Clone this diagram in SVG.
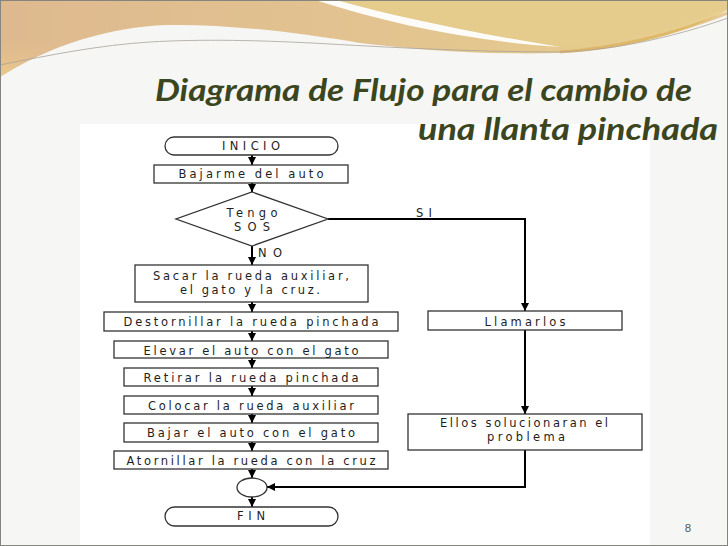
<svg xmlns="http://www.w3.org/2000/svg" width="728" height="546" viewBox="0 0 728 546">
<defs>
<linearGradient id="tan" x1="0" y1="0" x2="1" y2="0">
<stop offset="0" stop-color="#deb98f"/>
<stop offset="0.45" stop-color="#e2c290"/>
<stop offset="1" stop-color="#e7cf8d"/>
</linearGradient>
<linearGradient id="tanL" x1="0" y1="0" x2="0" y2="1">
<stop offset="0" stop-color="#deb98f" stop-opacity="0"/>
<stop offset="1" stop-color="#ebcb8a"/>
</linearGradient>
<marker id="ah" viewBox="0 0 10 10" refX="10" refY="5" markerWidth="9" markerHeight="8" markerUnits="userSpaceOnUse" orient="auto">
<path d="M0,0 L10,5 L0,10 Z" fill="#000"/>
</marker>
<style>
.box{fill:#fff;stroke:#333;stroke-width:1.3}
.term{fill:#fff;stroke:#333;stroke-width:1.3}
.t{font-family:"DejaVu Sans",Verdana,sans-serif;font-size:11.5px;fill:#1e1e1e;text-anchor:middle}
.lbl{font-family:"DejaVu Sans",Verdana,sans-serif;font-size:11.5px;fill:#1e1e1e}
.c{fill:none;stroke:#000;stroke-width:2;marker-end:url(#ah)}
.title{font-family:Lato,"Open Sans",sans-serif;font-weight:bold;font-style:italic;font-size:30px;fill:#3b4620}
</style>
</defs>
<rect x="0" y="0" width="728" height="546" fill="#f6f6f4"/>
<path d="M0,0 H728 V10 C700,25 640,50 560,53 C480,55 420,50 360,43 C300,33 230,24 167,25 C110,27 50,45 0,77 Z" fill="url(#tan)"/>
<path d="M0,40 C40,45 60,44 100,33 C50,45 25,60 0,77 Z" fill="url(#tanL)"/>
<path d="M320,0 H728 V8 C680,28 620,44 548,47 C470,32 400,16 320,0 Z" fill="#e5cc8c"/>
<path d="M315,0 L336,0 C400,18 480,34 560,47 C470,41 390,24 315,0 Z" fill="#ffffff" opacity="0.95"/>
<path d="M560,52 C620,48 680,32 728,13" fill="none" stroke="#d8a850" stroke-width="3" opacity="0.6"/>
<path d="M0,65 C50,55 100,45 150,42 C200,39 260,40 330,44 C400,48 480,52 560,52 C620,50 680,35 728,18" fill="none" stroke="#a9a39a" stroke-width="0.8"/>
<rect x="80" y="124" width="570" height="422" fill="#ffffff"/>
<rect x="0.5" y="0.5" width="727" height="545" fill="none" stroke="#858580" stroke-width="1"/>
<text class="title" x="155" y="101" textLength="537" lengthAdjust="spacingAndGlyphs">Diagrama de Flujo para el cambio de</text>
<text class="title" x="418" y="140" textLength="300" lengthAdjust="spacingAndGlyphs">una llanta pinchada</text>
<text x="688" y="532" font-family="'Liberation Sans',Arial,sans-serif" font-size="11.5" fill="#5a5a5a" text-anchor="middle">8</text>
<g id="connectors">
<path class="c" d="M252,155 V165"/>
<path class="c" d="M252,183 V192"/>
<path class="c" d="M252,246 V265"/>
<path class="c" d="M328,219 H525 V311"/>
<path class="c" d="M252,302 V312"/>
<path class="c" d="M252,331 V341"/>
<path class="c" d="M252,358 V368"/>
<path class="c" d="M252,386 V396"/>
<path class="c" d="M252,414 V423"/>
<path class="c" d="M252,442 V451"/>
<path class="c" d="M252,469 V478"/>
<path class="c" d="M252,497 V507"/>
<path class="c" d="M525,330 V414"/>
<path class="c" d="M525,450 V487 H267"/>
<text class="lbl" x="258" y="257" textLength="24" lengthAdjust="spacing">NO</text>
<text class="lbl" x="416" y="217" textLength="16" lengthAdjust="spacing">SI</text>
</g>
<g id="inicio">
<rect class="term" x="165" y="137" width="173" height="18" rx="9"/>
<text class="t" x="251" y="150" textLength="58" lengthAdjust="spacing">INICIO</text>
</g>
<g id="bajarme">
<rect class="box" x="154" y="165" width="194" height="18"/>
<text class="t" x="251" y="178" textLength="145" lengthAdjust="spacing">Bajarme del auto</text>
</g>
<g id="decision">
<polygon class="box" points="252,192 328,219 252,246 176,219"/>
<text class="t" x="252" y="217" textLength="51" lengthAdjust="spacing">Tengo</text>
<text class="t" x="252" y="231" textLength="36" lengthAdjust="spacing">SOS</text>
</g>
<g id="sacar">
<rect class="box" x="135" y="265" width="233" height="37"/>
<text class="t" x="251" y="280" textLength="196" lengthAdjust="spacing">Sacar la rueda auxiliar,</text>
<text class="t" x="250" y="294" textLength="140" lengthAdjust="spacing">el gato y la cruz.</text>
</g>
<g id="destornillar">
<rect class="box" x="104" y="312" width="294" height="19"/>
<text class="t" x="251" y="326" textLength="255" lengthAdjust="spacing">Destornillar la rueda pinchada</text>
</g>
<g id="elevar">
<rect class="box" x="114" y="341" width="274" height="17"/>
<text class="t" x="251" y="355" textLength="215" lengthAdjust="spacing">Elevar el auto con el gato</text>
</g>
<g id="retirar">
<rect class="box" x="124" y="368" width="254" height="18"/>
<text class="t" x="251" y="382" textLength="215" lengthAdjust="spacing">Retirar la rueda pinchada</text>
</g>
<g id="colocar">
<rect class="box" x="124" y="396" width="254" height="18"/>
<text class="t" x="251" y="410" textLength="206" lengthAdjust="spacing">Colocar la rueda auxiliar</text>
</g>
<g id="bajar">
<rect class="box" x="124" y="423" width="254" height="19"/>
<text class="t" x="251" y="437" textLength="208" lengthAdjust="spacing">Bajar el auto con el gato</text>
</g>
<g id="atornillar">
<rect class="box" x="114" y="451" width="274" height="18"/>
<text class="t" x="251" y="465" textLength="249" lengthAdjust="spacing">Atornillar la rueda con la cruz</text>
</g>
<g id="union">
<ellipse class="box" cx="252" cy="487.5" rx="15" ry="9.5"/>
</g>
<g id="fin">
<rect class="term" x="165" y="507" width="173" height="19" rx="9.5"/>
<text class="t" x="251" y="520" textLength="28" lengthAdjust="spacing">FIN</text>
</g>
<g id="llamarlos">
<rect class="box" x="428" y="311" width="194" height="19"/>
<text class="t" x="525" y="326" textLength="81" lengthAdjust="spacing">Llamarlos</text>
</g>
<g id="ellos">
<rect class="box" x="408" y="414" width="234" height="36"/>
<text class="t" x="524" y="427" textLength="168" lengthAdjust="spacing">Ellos solucionaran el</text>
<text class="t" x="526" y="441" textLength="78" lengthAdjust="spacing">problema</text>
</g>
</svg>
